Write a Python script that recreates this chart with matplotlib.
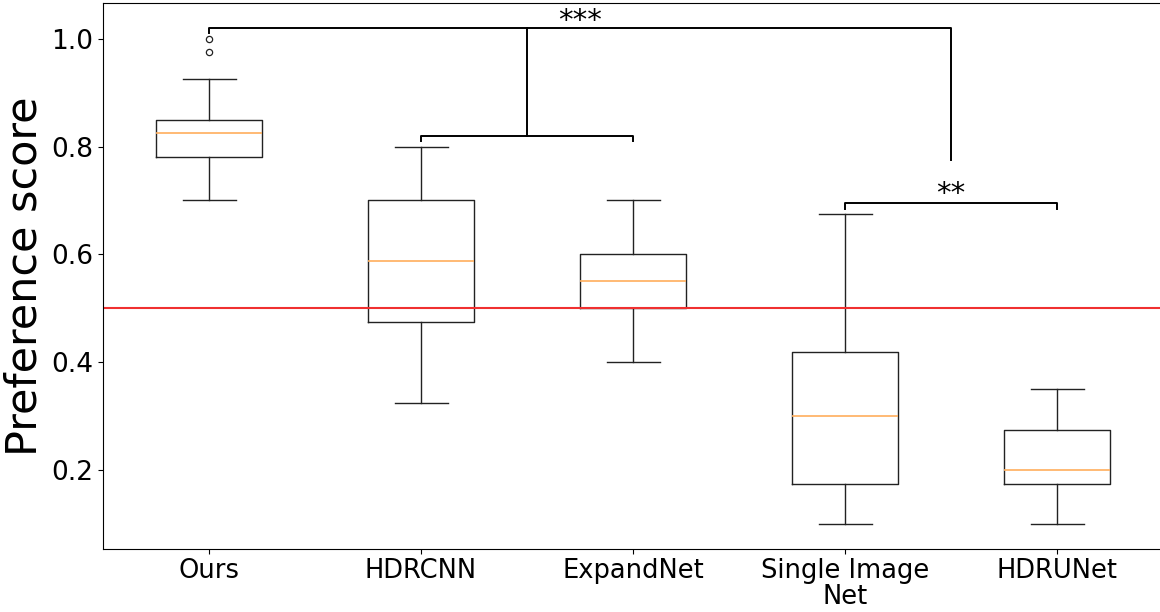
import matplotlib.pyplot as plt

# 各方法的箱线图统计量
methods = ["Ours", "HDRCNN", "ExpandNet", "Single Image\nNet", "HDRUNet"]
whisker_low = [0.70, 0.325, 0.40, 0.10, 0.10]
q1 = [0.78, 0.475, 0.50, 0.175, 0.175]
median = [0.825, 0.5875, 0.55, 0.30, 0.20]
q3 = [0.85, 0.70, 0.60, 0.42, 0.275]
whisker_high = [0.925, 0.80, 0.70, 0.675, 0.35]
outliers = [[1.0, 0.975], [], [], [], []]

# 显著性标注
chance_level = 0.5
pair_y = 0.82        # HDRCNN vs ExpandNet
top_y = 1.02         # Ours vs others
right_drop_y = 0.775
sin_pair_y = 0.695   # Single Image Net vs HDRUNet

stats = []
for i, name in enumerate(methods):
    stats.append({
        "label": name,
        "whislo": whisker_low[i],
        "q1": q1[i],
        "med": median[i],
        "q3": q3[i],
        "whishi": whisker_high[i],
        "fliers": outliers[i],
    })

fig = plt.figure(figsize=(11.6, 6.12), dpi=100)
ax = fig.add_axes([0.0888, 0.103, 0.9138, 0.892])

line_c = "#222222"
ax.bxp(
    stats,
    positions=range(1, 6),
    widths=0.5,
    boxprops=dict(color=line_c, linewidth=1),
    whiskerprops=dict(color=line_c, linewidth=1),
    capprops=dict(color=line_c, linewidth=1),
    medianprops=dict(color="#ffae5c", linewidth=1.2),
    flierprops=dict(marker="o", markersize=4.5, markerfacecolor="none",
                    markeredgecolor=line_c, markeredgewidth=0.9),
)

# 0.5 参考线
ax.axhline(chance_level, color="#f03030", linewidth=1.5)

bk = dict(color="black", linewidth=1.4)
tick = 0.01
# HDRCNN - ExpandNet 括号
ax.plot([2, 2, 3, 3], [pair_y - tick, pair_y, pair_y, pair_y - tick], **bk)
# Single Image Net - HDRUNet 括号
ax.plot([4, 4, 5, 5], [sin_pair_y - tick, sin_pair_y, sin_pair_y, sin_pair_y - tick], **bk)
# 顶部括号
ax.plot([1, 1, 4.5, 4.5], [top_y - tick, top_y, top_y, right_drop_y], **bk)
ax.plot([2.5, 2.5], [pair_y, top_y], **bk)

ax.text(2.75, 1.033, "***", ha="center", va="center", fontsize=21)
ax.text(4.5, 0.712, "**", ha="center", va="center", fontsize=21)

ax.set_xlim(0.5, 5.5)
ax.set_ylim(0.054, 1.066)
ax.set_yticks([0.2, 0.4, 0.6, 0.8, 1.0])
ax.tick_params(axis="y", labelsize=19)
ax.tick_params(axis="x", labelsize=18.5, pad=3)
for lab in ax.get_xticklabels():
    lab.set_linespacing(1.0)
ax.set_ylabel("Preference score", fontsize=31)

plt.savefig("out.png", dpi=100)
